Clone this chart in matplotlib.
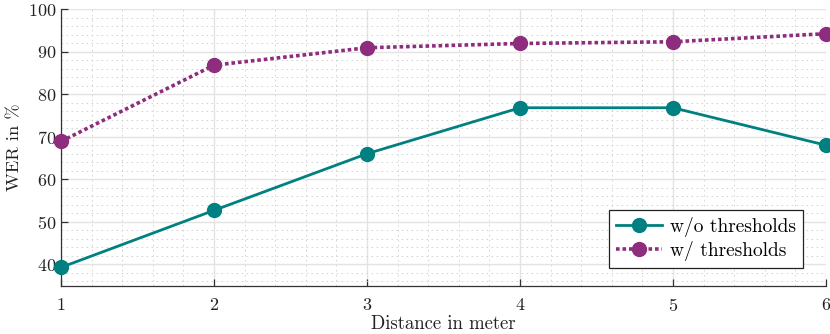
import matplotlib
matplotlib.use("Agg")
import matplotlib.pyplot as plt
from matplotlib.ticker import MultipleLocator

plt.rcParams['font.family'] = 'serif'
plt.rcParams['font.serif'] = ['cmr10', 'DejaVu Serif']
plt.rcParams['mathtext.fontset'] = 'cm'
plt.rcParams['axes.formatter.use_mathtext'] = True

distance = [1, 2, 3, 4, 5, 6]
wer_without = [39.3, 52.7, 66.0, 76.8, 76.8, 68.0]
wer_with = [68.9, 86.8, 90.9, 91.9, 92.3, 94.2]

teal = '#008080'
purple = '#8E2C7E'

fig = plt.figure(figsize=(8.3, 3.34), dpi=100)
ax = fig.add_axes([61/830, (334-285.7)/334, (826-61)/830, (285.7-9)/334])

ax.plot(distance, wer_without, color=teal, lw=2.0, marker='o', ms=10,
        label='w/o thresholds', zorder=3, clip_on=False)
ax.plot(distance, wer_with, color=purple, lw=2.6, ls=(0, (1, 0.8)), marker='o', ms=10,
        label='w/ thresholds', zorder=3, clip_on=False)

ax.set_xlim(1, 6)
ax.set_ylim(35, 100)
ax.xaxis.set_major_locator(MultipleLocator(1))
ax.xaxis.set_minor_locator(MultipleLocator(0.2))
ax.yaxis.set_major_locator(MultipleLocator(10))
ax.yaxis.set_minor_locator(MultipleLocator(2))

ax.grid(which='major', color='#e3e3e3', lw=1.0, ls='-')
ax.grid(which='minor', color='#cfcfcf', lw=0.6, ls=(0, (2, 4)))
ax.set_axisbelow(True)

for s in ['top', 'right']:
    ax.spines[s].set_visible(False)
for s in ['left', 'bottom']:
    ax.spines[s].set_color('#333333')
    ax.spines[s].set_linewidth(0.9)

ax.tick_params(axis='both', which='major', direction='in', length=5, width=0.9,
               colors='#333333', labelsize=13, labelcolor='#222222')
ax.tick_params(axis='both', which='minor', length=0)
ax.tick_params(axis='x', pad=8)

ax.set_xlabel('Distance in meter', fontsize=13.5, color='#222222', labelpad=1)
ax.set_ylabel('WER in %', fontsize=13.2, color='#222222', labelpad=4)

leg = ax.legend(loc='lower right', bbox_to_anchor=(0.970, 0.064), borderaxespad=0,
                fontsize=14, frameon=True, fancybox=False, framealpha=1,
                edgecolor='#222222', handlelength=2.4, borderpad=0.35,
                labelspacing=0.2, handletextpad=0.4)
leg.get_frame().set_linewidth(0.9)

fig.savefig('out.png', dpi=100)
